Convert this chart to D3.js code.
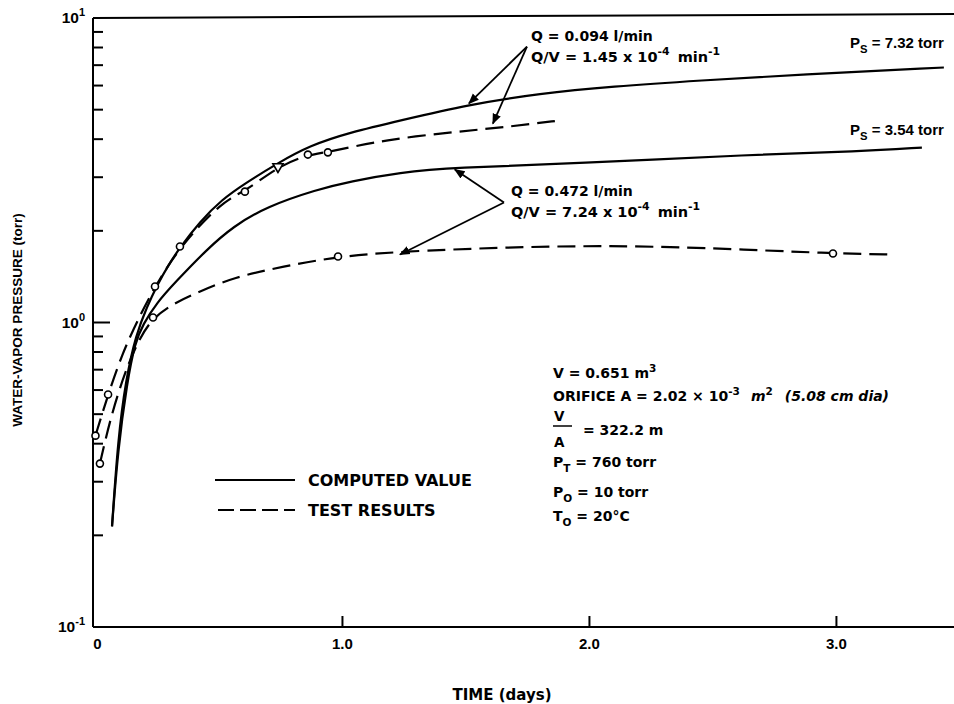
<!DOCTYPE html>
<html>
<head>
<meta charset="utf-8">
<script src="https://cdn.jsdelivr.net/npm/d3@7"></script>
<style>
  body { margin: 0; background: #fff; }
  svg { font-family: "Liberation Sans", Arial, sans-serif; font-weight: bold; }
</style>
</head>
<body>
<svg id="chart" width="954" height="704"></svg>
<script>
// values: [time (days), pressure (torr)]
const computedLowFlow = [
    [0.067, 0.214], [0.091, 0.413], [0.123, 0.65], [0.164, 0.914], [0.209, 1.128],
    [0.249, 1.323], [0.294, 1.539], [0.342, 1.763], [0.423, 2.146], [0.512, 2.535],
    [0.605, 2.86], [0.735, 3.327], [0.868, 3.813], [1.03, 4.207], [1.233, 4.605],
    [1.512, 5.198], [1.799, 5.649], [2.091, 5.957], [2.447, 6.235], [2.852, 6.519],
    [3.435, 6.877]
];
const computedHighFlow = [
    [0.067, 0.214], [0.091, 0.383], [0.128, 0.635], [0.16, 0.859], [0.192, 0.985],
    [0.249, 1.163], [0.322, 1.353], [0.451, 1.738], [0.557, 2.066], [0.694, 2.404],
    [0.897, 2.733], [1.03, 2.904], [1.233, 3.11], [1.447, 3.228], [1.949, 3.327],
    [2.662, 3.563], [3.091, 3.644], [3.346, 3.755]
];
const testLowFlow = [
    [0.0, 0.425], [0.051, 0.58], [0.107, 0.785], [0.172, 1.023], [0.241, 1.313],
    [0.342, 1.777], [0.512, 2.497], [0.605, 2.69], [0.739, 3.25], [0.86, 3.56],
    [0.941, 3.62], [1.172, 3.99], [1.476, 4.24], [1.678, 4.4], [1.881, 4.61]
];
const testHighFlow = [
    [0.018, 0.344], [0.059, 0.48], [0.119, 0.69], [0.18, 0.893], [0.233, 1.038],
    [0.322, 1.163], [0.423, 1.264], [0.557, 1.405], [0.759, 1.527], [0.982, 1.647],
    [1.233, 1.71], [1.638, 1.763], [2.043, 1.79], [2.447, 1.763], [2.986, 1.685],
    [3.237, 1.672]
];
const pointsLowFlow = [[0.0, 0.425], [0.051, 0.58], [0.241, 1.313], [0.342, 1.777], [0.605, 2.69], [0.86, 3.56], [0.941, 3.62]];
const trianglesLowFlow = [[0.739, 3.25]];
const pointsHighFlow = [[0.018, 0.344], [0.233, 1.038], [0.982, 1.647], [2.986, 1.685]];

const xTicks = [1, 2, 3];
const xLabels = [[0, '0'], [1, '1.0'], [2, '2.0'], [3, '3.0']];
const yDecades = [[10, '1'], [1, '0'], [0.1, '-1']];

// annotation arrows: vertex, then the two tips
const arrowsLowFlow = [[1.747, 8.06], [1.512, 5.24], [1.609, 4.5]];
const arrowsHighFlow = [[1.654, 2.478], [1.455, 3.18], [1.233, 1.672]];

const NARROW = '"Liberation Sans", Arial, sans-serif';
const WIDE = '"DejaVu Sans", Verdana, sans-serif';

const svg = d3.select('#chart');
const x = d3.scaleLinear().domain([-0.01, 3.476]).range([93, 954]);
const y = d3.scaleLog().domain([0.1, 10]).range([627, 18]);

svg.append('defs').append('marker')
    .attr('id', 'head')
    .attr('viewBox', '0 0 10 10')
    .attr('refX', 9).attr('refY', 5)
    .attr('markerWidth', 6).attr('markerHeight', 6)
    .attr('markerUnits', 'strokeWidth')
    .attr('orient', 'auto')
    .append('path').attr('d', 'M0,1 L10,5 L0,9 Z').attr('fill', '#000');

// frame
const frame = svg.append('g').attr('stroke', '#000').attr('stroke-width', 2);
frame.append('line').attr('x1', 93).attr('x2', 93).attr('y1', y(10)).attr('y2', y(0.1));
frame.append('line').attr('x1', 93).attr('x2', 954).attr('y1', y(0.1)).attr('y2', y(0.1));
frame.append('line').attr('x1', 93).attr('x2', 954).attr('y1', y(10)).attr('y2', y(10) - 4);

// y ticks pointing inward
frame.selectAll('.yt')
    .data(y.ticks().filter(v => v > 0.1 && v < 10))
    .enter().append('line')
    .attr('x1', 93)
    .attr('x2', d => Math.abs(d - 1) < 1e-9 ? 110 : 103)
    .attr('y1', d => y(d)).attr('y2', d => y(d));

frame.selectAll('.xt')
    .data(xTicks)
    .enter().append('line')
    .attr('x1', d => x(d)).attr('x2', d => x(d))
    .attr('y1', 627).attr('y2', 616);

// tick labels
svg.selectAll('.xl')
    .data(xLabels)
    .enter().append('text')
    .attr('x', d => x(d[0]) + (d[0] === 0 ? 2 : 0))
    .attr('y', 649)
    .attr('text-anchor', 'middle')
    .attr('font-size', 15)
    .text(d => d[1]);

const yl = svg.selectAll('.yl')
    .data(yDecades)
    .enter().append('text')
    .attr('x', 85)
    .attr('y', d => y(d[0]) + 5)
    .attr('text-anchor', 'end')
    .attr('font-size', 15.5);
yl.append('tspan').text('10');
yl.append('tspan').attr('dy', -7).attr('font-size', 11).text(d => d[1]);

// axis titles
svg.append('text')
    .attr('transform', 'translate(22,320) rotate(-90)')
    .attr('text-anchor', 'middle')
    .attr('font-size', 13.5)
    .text('WATER-VAPOR PRESSURE (torr)');

svg.append('text')
    .attr('x', 502).attr('y', 700)
    .attr('text-anchor', 'middle')
    .attr('font-family', WIDE)
    .attr('font-size', 15)
    .text('TIME (days)');

// curves
const line = d3.line()
    .x(d => x(d[0]))
    .y(d => y(d[1]))
    .curve(d3.curveBasis);

const curves = svg.append('g').attr('fill', 'none').attr('stroke', '#000').attr('stroke-width', 2.2);
curves.append('path').attr('d', line(computedLowFlow));
curves.append('path').attr('d', line(computedHighFlow));
curves.append('path').attr('d', line(testLowFlow)).attr('stroke-dasharray', '18,8');
curves.append('path').attr('d', line(testHighFlow)).attr('stroke-dasharray', '18,8');

// test points
const pts = svg.append('g').attr('fill', '#fff').attr('stroke', '#000').attr('stroke-width', 1.6);
pts.selectAll('circle')
    .data(pointsLowFlow.concat(pointsHighFlow))
    .enter().append('circle')
    .attr('cx', d => x(d[0]))
    .attr('cy', d => y(d[1]))
    .attr('r', 3.5);
pts.selectAll('path')
    .data(trianglesLowFlow)
    .enter().append('path')
    .attr('d', d3.symbol(d3.symbolTriangle, 45))
    .attr('transform', d => `translate(${x(d[0])},${y(d[1])}) rotate(180)`);

// annotation arrows
function arrows(a) {
    const g = svg.append('g').attr('stroke', '#000').attr('stroke-width', 1.8);
    a.slice(1).forEach(tip => {
        g.append('line')
            .attr('x1', x(a[0][0])).attr('y1', y(a[0][1]))
            .attr('x2', x(tip[0])).attr('y2', y(tip[1]))
            .attr('marker-end', 'url(#head)');
    });
}
arrows(arrowsLowFlow);
arrows(arrowsHighFlow);

// text with sub/superscripts: parts are [text, kind, italic, dx]
function rich(px, py, parts, size, family) {
    size = size || 14;
    const t = svg.append('text').attr('x', px).attr('y', py)
        .attr('font-size', size).attr('font-family', family || WIDE);
    let shift = 0;
    parts.forEach(p => {
        const kind = p[1] || 'n';
        const target = kind === 'sup' ? -size * 0.45 : kind === 'sub' ? size * 0.35 : 0;
        const s = t.append('tspan').attr('dy', target - shift).text(p[0]);
        if (kind !== 'n') s.attr('font-size', size * 0.75);
        if (p[2]) s.attr('font-style', 'italic');
        if (p[3]) s.attr('dx', p[3]);
        shift = target;
    });
    return t;
}

rich(531, 41, [['Q = 0.094 l/min']], 14);
rich(531, 62, [['Q/V = 1.45 x 10'], ['-4', 'sup'], [' min', 'n', false, 3], ['-1', 'sup']], 14.5);
rich(850, 48, [['P'], ['S', 'sub'], [' = 7.32 torr']], 15, NARROW);
rich(850, 135, [['P'], ['S', 'sub'], [' = 3.54 torr']], 15, NARROW);
rich(511, 196, [['Q = 0.472 l/min']], 14);
rich(511, 217, [['Q/V = 7.24 x 10'], ['-4', 'sup'], [' min', 'n', false, 3], ['-1', 'sup']], 14.5);

// legend
svg.append('line').attr('x1', 215).attr('x2', 295).attr('y1', 480).attr('y2', 480)
    .attr('stroke', '#000').attr('stroke-width', 2.2);
svg.append('line').attr('x1', 218).attr('x2', 295).attr('y1', 510).attr('y2', 510)
    .attr('stroke', '#000').attr('stroke-width', 2.2).attr('stroke-dasharray', '16,6');
rich(308, 486, [['COMPUTED VALUE']], 16);
rich(308, 516, [['TEST RESULTS']], 16);

// parameters block
rich(553, 378, [['V = 0.651 m'], ['3', 'sup']]);
rich(553, 401, [['ORIFICE A = 2.02 \u00d7 10'], ['-3', 'sup'], ['m', 'n', true, 11], ['2', 'sup'], ['(5.08 cm dia)', 'n', true, 12]]);
rich(554, 421, [['V']], 13.5);
svg.append('line').attr('x1', 553).attr('x2', 572).attr('y1', 426).attr('y2', 426)
    .attr('stroke', '#000').attr('stroke-width', 1.5);
rich(554, 447, [['A']], 13.5);
rich(583, 435, [['= 322.2 m']]);
rich(553, 467, [['P'], ['T', 'sub'], [' = 760 torr']]);
rich(553, 497, [['P'], ['O', 'sub'], [' = 10 torr']]);
rich(553, 521, [['T'], ['O', 'sub'], [' = 20\u00b0C']]);
</script>
</body>
</html>
